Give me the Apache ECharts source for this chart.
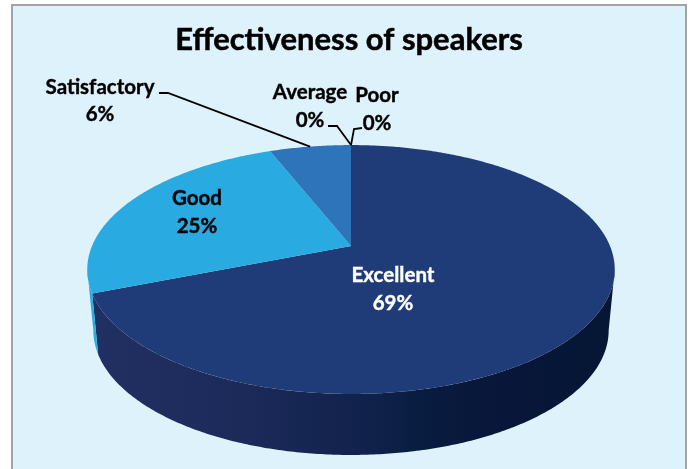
<!DOCTYPE html>
<html><head><meta charset="utf-8">
<style>html,body{margin:0;padding:0;background:#fff}#c{width:690px;height:469px}</style>
<script src="https://cdn.jsdelivr.net/npm/echarts@6/dist/echarts.min.js"></script>
</head><body><div id="c"></div>
<script>
const categories = ['Excellent','Good','Satisfactory','Average','Poor'];
const percents = [69,25,6,0,0];
const colors = ['#1f3c78','#29abe2','#2e74bb','#2e74bb','#1f3c78'];
const titleText = 'Effectiveness of speakers';
// label centres and leader bends (layout, separate from the data)
const labelPos = [[393,275,303,'#ffffff'],[197,198,226,'#000'],[100,87,114,'#000'],[310,92,120,'#000'],[377,95,123,'#000']];
const leaders = [null,null,[[159,93],[168,93]],[[328,126],[337,126]],[[362,128],[354,129]]];

const chart = echarts.init(document.getElementById('c'),null,{renderer:'canvas'});
const k=0.189, cx=351;
const topRim={a:259,b:120,y0:246}, botRim={a:253,b:120,y0:307};
const total=percents.reduce((s,v)=>s+v,0);
const starts=[];percents.reduce((s,v,i)=>{starts[i]=s;return s+v},0);
const toAngle=p=>p/total*2*Math.PI;
function proj(r,t,rad){const u=Math.sin(t)*(rad==null?1:rad),v=-Math.cos(t)*(rad==null?1:rad),w=1-k*v;return [cx+r.a*u/w,r.y0+r.b*v/w];}
function arc(r,a0,a1){const n=Math.max(2,Math.ceil(Math.abs(a1-a0)/0.01));const o=[];for(let i=0;i<=n;i++)o.push(proj(r,a0+(a1-a0)*i/n));return o;}
const thR=Math.acos(-k), thL=2*Math.PI-thR;
const wallFills=[
 {type:'linear',x:0,y:0,x2:1,y2:0,colorStops:[{offset:0,color:'#213062'},{offset:.3,color:'#1b2a59'},{offset:.58,color:'#0e1f47'},{offset:.62,color:'#081d40'},{offset:.75,color:'#08173a'},{offset:1,color:'#061634'}]},
 '#29abe2',null,null,null];

chart.setOption({
 backgroundColor:'#fff',animation:false,
 title:{text:titleText,left:344,top:19,textAlign:'center',textStyle:{fontFamily:'Lato',fontWeight:'bold',fontSize:31,color:'#000',textBorderColor:'#000',textBorderWidth:0.5}},
 graphic:[{type:'rect',z:-10,shape:{x:12,y:5,width:674,height:480},style:{fill:'#def2fc',stroke:'#a3a3a3',lineWidth:2}}],
 series:[
 {type:'custom',coordinateSystem:'none',silent:true,z:2,data:percents,renderItem(p,api){
   const i=p.dataIndex,a0=toAngle(starts[i]),a1=toAngle(starts[i]+percents[i]);
   const s=Math.max(a0,thR),e=Math.min(a1,thL);
   if(e<=s||!wallFills[i])return {type:'group',children:[]};
   const pts=arc(topRim,s,e).concat(arc(botRim,e,s));
   return {type:'polygon',shape:{points:pts},style:{fill:wallFills[i]}};
 }},
 {type:'custom',coordinateSystem:'none',silent:true,z:3,data:percents,renderItem(p,api){
   const i=p.dataIndex;if(!percents[i])return {type:'group',children:[]};
   const a0=toAngle(starts[i]),a1=toAngle(starts[i]+percents[i]);
   const pts=[proj(topRim,a0,0)].concat(arc(topRim,a0,a1));
   return {type:'polygon',shape:{points:pts},style:{fill:colors[i]}};
 }},
 {type:'custom',coordinateSystem:'none',silent:true,z:4,data:percents,renderItem(p,api){
   const i=p.dataIndex,[x,y1,y2,col]=labelPos[i];
   const font='bold 20.5px Lato';
   const edge={stroke:col,lineWidth:0.4};
   const kids=[
    {type:'text',style:Object.assign({text:categories[i],x,y:y1,fill:col,font,textAlign:'center',textVerticalAlign:'middle'},edge)},
    {type:'text',style:Object.assign({text:percents[i]+'%',x,y:y2,fill:col,font,textAlign:'center',textVerticalAlign:'middle'},edge)}];
   if(leaders[i]){
     const mid=toAngle(starts[i]+percents[i]/2);
     kids.push({type:'polyline',shape:{points:leaders[i].concat([proj(topRim,mid)])},style:{fill:'none',stroke:'#000',lineWidth:1.8}});
   }
   return {type:'group',children:kids};
 }}
 ]
});
</script></body></html>
